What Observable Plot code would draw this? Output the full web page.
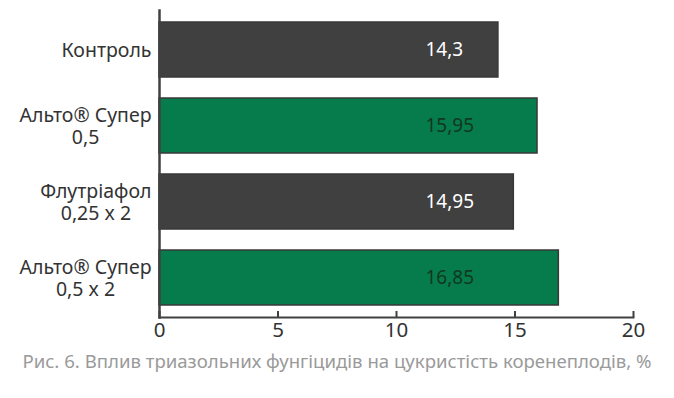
<!DOCTYPE html>
<html><head><meta charset="utf-8">
<script src="https://cdn.jsdelivr.net/npm/d3@7"></script>
<script src="https://cdn.jsdelivr.net/npm/@observablehq/plot@0.6"></script>
<style>
body{margin:0;background:#fff;}
#caption{font-family:"Noto Sans";font-size:18.6px;color:#9a9a9a;text-align:center;width:674px;margin-top:3px;}
</style></head><body>
<div id="chart"></div>
<div id="caption">Рис. 6. Вплив триазольних фунгіцидів на цукристість коренеплодів, %</div>
<script>
const categories = ["Контроль", "Альто® Супер\n0,5", "Флутріафол\n0,25 x 2", "Альто® Супер\n0,5 x 2"];
const values = [14.3, 15.95, 14.95, 16.85];
const kinds = ["base", "alto", "base", "alto"];
const xTicks = [0, 5, 10, 15, 20];

const data = categories.map((c, i) => ({category: c, value: values[i], kind: kinds[i]}));
const fmt = v => String(v).replace(".", ",");

const plot = Plot.plot({
  width: 674, height: 345,
  marginLeft: 159, marginRight: 41, marginTop: 10, marginBottom: 28,
  style: {fontFamily: "Noto Sans", background: "white", overflow: "visible"},
  x: {domain: [0, 20], ticks: xTicks, label: null},
  y: {domain: categories, paddingInner: 0.27, paddingOuter: 0.137, label: null},
  color: {domain: ["base", "alto"], range: ["#404040", "#067c4c"]},
  marks: [
    Plot.barX(data, {x: "value", y: "category", fill: "kind", stroke: "#383838", strokeWidth: 1.5}),
    Plot.text(data.filter(d => d.kind === "base"), {y: "category", text: d => fmt(d.value), frameAnchor: "left", dx: 266, textAnchor: "start", fill: "#ffffff", fontSize: 19}),
    Plot.text(data.filter(d => d.kind === "alto"), {y: "category", text: d => fmt(d.value), frameAnchor: "left", dx: 266, textAnchor: "start", fill: "#10381f", fontSize: 19}),
    Plot.axisY({tickSize: 0, tickPadding: 8, fontSize: 19.5, fill: "#333", lineHeight: 1.13}),
    Plot.axisX({ticks: xTicks, tickSize: 6, dy: -6, tickFormat: () => "", stroke: "#404040", strokeWidth: 2}),
    Plot.axisX({ticks: xTicks, tickSize: 0, tickPadding: 5, fontSize: 20.5, fill: "#333"}),
    Plot.frame({anchor: "left", stroke: "#404040", strokeWidth: 2.5}),
    Plot.frame({anchor: "bottom", stroke: "#404040", strokeWidth: 2})
  ]
});
document.getElementById("chart").appendChild(plot);

// center the lines of each multi-line category label while keeping the block right-aligned
plot.querySelectorAll('g[aria-label="y-axis tick label"] text').forEach(t => {
  const before = t.getBBox();
  const right = before.x + before.width;
  t.setAttribute("text-anchor", "middle");
  const after = t.getBBox();
  const shift = right - (after.x + after.width);
  t.setAttribute("transform", (t.getAttribute("transform") || "") + ` translate(${shift},0)`);
});
</script>
</body></html>
